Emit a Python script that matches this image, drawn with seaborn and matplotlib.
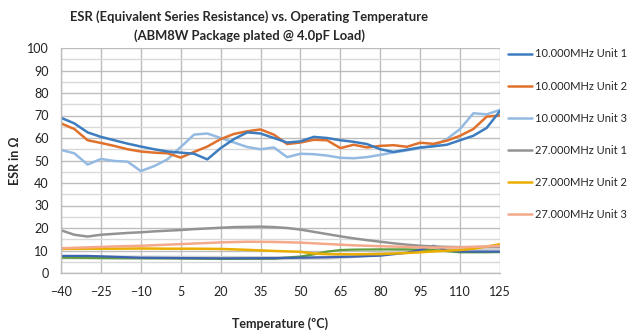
import numpy as np
import pandas as pd
import seaborn as sns
import matplotlib
matplotlib.use("Agg")
import matplotlib.pyplot as plt
from matplotlib.ticker import MultipleLocator

sns.set_style("white")
plt.rcParams['font.family'] = ['Lato', 'DejaVu Sans']

# ---- data ----
temps5 = list(range(-40, 130, 5))

esr_10_u1 = [69, 66.5, 62.5, 60.5, 59, 57.5, 56.2, 55, 54, 53.5, 53, 50.5, 55.5, 59.5,
             62.5, 62, 60, 58, 58.5, 60.5, 60, 59, 58.3, 57.3, 55, 53.8, 54.8, 55.8,
             56.3, 57, 59, 61, 64.5, 72]
esr_10_u2 = [66.5, 64, 59, 57.8, 56.5, 55, 54, 53.5, 53.2, 51.3, 53.8, 56.2, 59.5, 61.8,
             63, 63.8, 61.5, 57.3, 58, 59.2, 59, 55.5, 57, 55.8, 56.5, 56.8, 56.1, 57.9,
             57.4, 58.8, 61, 64, 69.5, 70]
esr_10_u3 = [54.7, 53.2, 48.2, 50.7, 49.8, 49.5, 45.3, 47.5, 50.5, 56, 61.5, 62, 60, 58,
             56, 55, 55.8, 51.5, 53, 52.8, 52.2, 51.2, 51, 51.5, 52.5, 53.6, 54.5, 55.5,
             56.5, 59.5, 64, 71, 70.5, 72.5]
esr_27_u1 = [19, 17, 16.2, 17, 17.4, 17.8, 18.1, 18.5, 18.8, 19.1, 19.5, 19.8, 20.1, 20.4,
             20.5, 20.6, 20.4, 20, 19.3, 18.3, 17.3, 16.3, 15.4, 14.6, 13.9, 13.2, 12.6,
             12.1, 11.8, 11.6, 11.5, 11.5, 11.6, 11.7]

temps10 = [-40, -30, -20, -10, 0, 10, 20, 30, 40, 50, 55, 60, 70, 80, 90, 95, 100, 110, 115, 120, 125]
esr_27_u2 = [10.7, 10.8, 10.8, 10.9, 10.8, 10.8, 10.7, 10.3, 9.8, 9.4, 8.7, 8.4, 8.3, 8.4,
             8.9, 9.2, 9.6, 10.2, 10.8, 11.8, 12.8]

temps_s = [-40, -30, -20, -10, 0, 10, 20, 30, 40, 50, 60, 70, 80, 90, 95, 100, 110, 120, 125]
esr_27_u3 = [11, 11.4, 11.8, 12.1, 12.6, 13.1, 13.6, 13.9, 13.8, 13.5, 12.9, 12.3, 11.9,
             11.6, 11.4, 11.3, 11.4, 11.8, 12.1]

temps_x1 = [-40, -30, -20, -10, 0, 20, 40, 50, 60, 70, 80, 90, 95, 100, 105, 110, 125]
extra_blue = [7.6, 7.6, 7.2, 6.8, 6.7, 6.5, 6.6, 6.8, 7.0, 7.3, 7.7, 9.0, 10.3, 12.1, 10.0, 9.5, 9.5]

temps_x2 = [-40, -20, 0, 20, 40, 50, 55, 60, 65, 70, 80, 90, 100, 110, 120, 125]
extra_green = [6.8, 6.6, 6.5, 6.3, 6.4, 7.3, 8.3, 9.5, 10.2, 10.4, 10.5, 10.5, 10.2, 9.2, 9.2, 9.3]

temps_x3 = [-40, 0, 40, 60, 70, 80, 90, 100, 110, 125]
extra_gray = [7.0, 6.8, 6.6, 6.8, 7.5, 8.5, 9.8, 10.3, 9.8, 10.2]

x_ticks = list(range(-40, 126, 15))
y_ticks = list(range(0, 101, 10))

series = [
    ("_extra_gray", temps_x3, extra_gray, "#CFCFCF", 3.0),
    ("_extra_green", temps_x2, extra_green, "#5E9E3E", 1.6),
    ("_extra_blue", temps_x1, extra_blue, "#3E63B0", 1.6),
    ("27.000MHz Unit 1", temps5, esr_27_u1, "#939393", 1.8),
    ("27.000MHz Unit 2", temps10, esr_27_u2, "#EAAE00", 1.8),
    ("27.000MHz Unit 3", temps_s, esr_27_u3, "#F4A98A", 1.8),
    ("10.000MHz Unit 3", temps5, esr_10_u3, "#94BAE2", 1.8),
    ("10.000MHz Unit 2", temps5, esr_10_u2, "#E0712C", 1.8),
    ("10.000MHz Unit 1", temps5, esr_10_u1, "#3D7DBF", 1.8),
]

fig = plt.figure(figsize=(6.32, 3.33), dpi=100)
ax = fig.add_axes([61/632, 60/333, 439/632, 225/333])

handles = {}
for name, xs, ys, col, lw in series:
    df = pd.DataFrame({"T": xs, "ESR": ys})
    sns.lineplot(data=df, x="T", y="ESR", ax=ax, color=col, linewidth=lw,
                 label=name, legend=False)
    handles[name] = ax.lines[-1]

ax.set_xlim(-40, 125)
ax.set_ylim(0, 100)
ax.set_xticks(x_ticks)
ax.set_yticks(y_ticks)
ax.yaxis.set_minor_locator(MultipleLocator(5))
ax.grid(True, which='major', axis='both', color='#BDBDBD', linewidth=1.0, zorder=0)
ax.grid(True, which='minor', axis='y', color='#D9D9D9', linewidth=1.0, zorder=0)
ax.set_axisbelow(True)
for s in ['top', 'right']:
    ax.spines[s].set_visible(False)
for s in ['left', 'bottom']:
    ax.spines[s].set_color('#BDBDBD')
    ax.spines[s].set_linewidth(1.0)
ax.tick_params(axis='both', which='major', length=4, color='#BDBDBD', labelsize=9,
               labelcolor='#222222', pad=5)
ax.tick_params(axis='y', which='minor', length=0)

ax.set_xlabel("Temperature (ºC)", fontsize=9, fontweight='bold', labelpad=14)
ax.set_ylabel("ESR in Ω", fontsize=9, fontweight='bold', labelpad=4)

fig.text(249/632, 1 - 17/333, "ESR (Equivalent Series Resistance) vs. Operating Temperature",
         ha='center', va='center', fontsize=9.4, fontweight='bold')
fig.text(249/632, 1 - 36/333, "(ABM8W Package plated @ 4.0pF Load)",
         ha='center', va='center', fontsize=9.4, fontweight='bold')

order = ["10.000MHz Unit 1", "10.000MHz Unit 2", "10.000MHz Unit 3",
         "27.000MHz Unit 1", "27.000MHz Unit 2", "27.000MHz Unit 3"]
fig.legend([handles[n] for n in order], order, loc='upper left',
           bbox_to_anchor=(504/632, 1 - 44/333), frameon=False, fontsize=8,
           handlelength=2.1, handletextpad=0.25, labelspacing=1.9, borderaxespad=0)

fig.savefig("out.png", dpi=100)
